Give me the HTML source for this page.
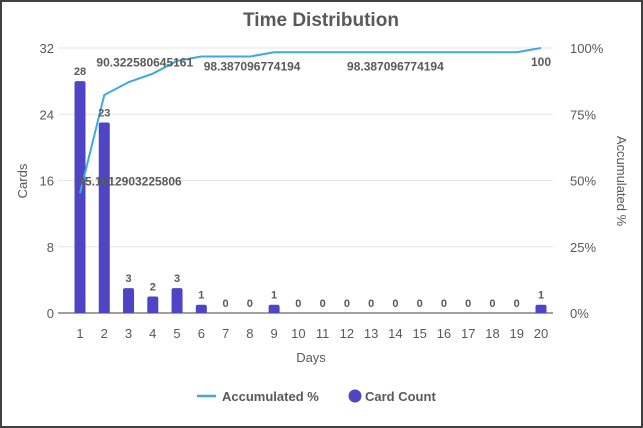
<!DOCTYPE html>
<html><head><meta charset="utf-8"><style>
body{margin:0;background:#fff;}
svg{display:block;font-family:"Liberation Sans",sans-serif;}
</style></head><body>
<svg id="chart" width="643" height="428">
<rect x="1" y="1" width="641" height="426" fill="#fff" stroke="#404040" stroke-width="2"/>
<text x="321" y="26" text-anchor="middle" font-size="19" font-weight="bold" fill="#595959">Time Distribution</text>
<g id="grid"></g><g id="bars"></g><g id="line"></g><g id="labels"></g>
<text transform="translate(27,181) rotate(-90)" text-anchor="middle" font-size="13" fill="#595959">Cards</text>
<text transform="translate(617,181) rotate(90)" text-anchor="middle" font-size="13" fill="#595959">Accumulated %</text>
<text x="311" y="362" text-anchor="middle" font-size="13" fill="#595959">Days</text>
<g>
<line x1="197" y1="396" x2="216" y2="396" stroke="#3fa9dd" stroke-width="2.5"/>
<text x="222" y="401" font-size="13" font-weight="bold" fill="#595959">Accumulated %</text>
<circle cx="355" cy="396" r="6.5" fill="#4d45c4"/>
<text x="365" y="401" font-size="13" font-weight="bold" fill="#595959">Card Count</text>
</g>
</svg>
<script>
const days=[1,2,3,4,5,6,7,8,9,10,11,12,13,14,15,16,17,18,19,20];
const cards=[28,23,3,2,3,1,0,0,1,0,0,0,0,0,0,0,0,0,0,1];
const accum=[45.1612903225806,82.258064516129,87.0967741935484,90.3225806451613,95.1612903225806,96.7741935483871,96.7741935483871,96.7741935483871,98.3870967741936,98.3870967741936,98.3870967741936,98.3870967741936,98.3870967741936,98.3870967741936,98.3870967741936,98.3870967741936,98.3870967741936,98.3870967741936,98.3870967741936,100];
const leftTicks=[0,8,16,24,32];
const rightTicks=["0%","25%","50%","75%","100%"];
const lineLabelIdx=[0,3,8,13,19];
const lineLabelText=["45.1612903225806","90.322580645161","98.387096774194","98.387096774194","100"];
const NS="http://www.w3.org/2000/svg";
const x=i=>80+i*(461/19);
const y=v=>313-v/32*265;
const y2=p=>313-p/100*265;
function mk(t,a,p,txt){const e=document.createElementNS(NS,t);for(const k in a)e.setAttribute(k,a[k]);if(txt!==undefined)e.textContent=txt;p.appendChild(e);return e;}
const G=document.getElementById('grid'),B=document.getElementById('bars'),L=document.getElementById('line'),T=document.getElementById('labels');
leftTicks.forEach((t,i)=>{
 const gl=mk('line',{x1:58,x2:553,y1:y(t),y2:y(t),stroke:i==0?'#808080':'#e6e6e6','stroke-width':i==0?1.5:1},G);
 
 
 const tl=mk('text',{x:54,y:y(t)+5,'text-anchor':'end','font-size':13,fill:'#595959'},G,t);
 
 
 const tr=mk('text',{x:570,y:y2(i*25)+5,'font-size':13,fill:'#595959'},G,rightTicks[i]);
 
 
});
days.forEach((d,i)=>{
 const xl=mk('text',{x:x(i),y:338,'text-anchor':'middle','font-size':13,fill:'#595959'},G,d);
 
 
 const h=cards[i]/32*265;
 if(h>0){const b=mk('path',{d:`M${x(i)-5.5},313 V${313-h+2} Q${x(i)-5.5},${313-h} ${x(i)-3.5},${313-h} H${x(i)+3.5} Q${x(i)+5.5},${313-h} ${x(i)+5.5},${313-h+2} V313 Z`,fill:'#4d45c4'},B);
 
 }
 const vl=mk('text',{x:x(i),y:313-h-6,'text-anchor':'middle','font-size':11,'font-weight':'bold',fill:'#595959'},T,cards[i]);
 
 
});
const pl=mk('polyline',{points:accum.map((p,i)=>x(i)+','+y2(p)).join(' '),fill:'none',stroke:'#3fa9dd','stroke-width':2},L);


const offs=[50,-8,-22,0,0],dy=[-8,-7,18,18,18];
lineLabelIdx.forEach((idx,k)=>{
 const ll=mk('text',{x:x(idx)+offs[k],y:y2(accum[idx])+dy[k],'text-anchor':'middle','font-size':12,'font-weight':'bold',fill:'#595959'},T,lineLabelText[k]);
 
 
});
</script>
</body></html>
